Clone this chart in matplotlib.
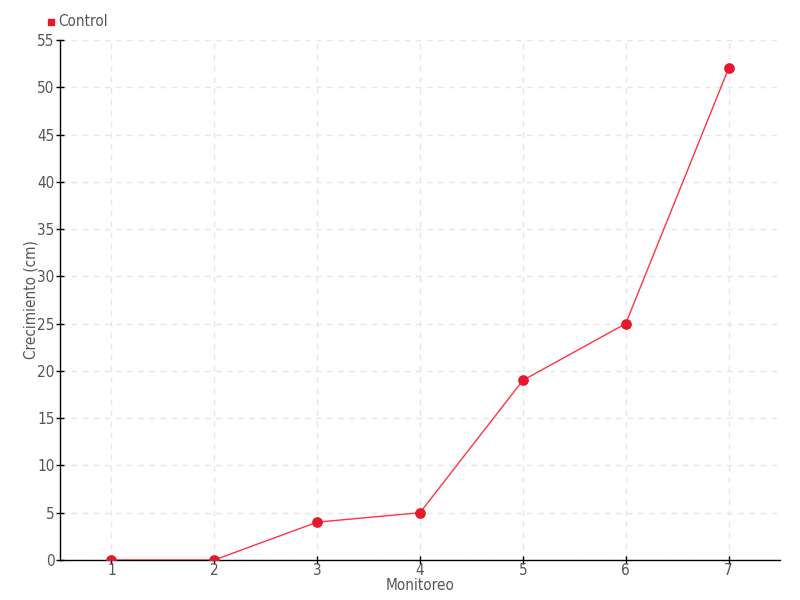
import matplotlib
matplotlib.use("Agg")
import matplotlib.pyplot as plt
from matplotlib import font_manager

# data
monitoreo = [1, 2, 3, 4, 5, 6, 7]
control = [0, 0, 4, 5, 19, 25, 52]
y_ticks = list(range(0, 60, 5))

# condensed face if there is one
cond = [f for f in font_manager.fontManager.ttflist
        if f.name == "DejaVu Sans" and "ondensed" in str(f.stretch) + f.fname]
plt.rcParams['font.family'] = ['DejaVu Sans']
if cond:
    plt.rcParams['font.stretch'] = 'condensed'

RED = "#e8192c"
TEXT = "#555555"

fig = plt.figure(figsize=(8, 6), dpi=100)
ax = fig.add_axes([0.075, 0.0667, 0.9, 0.8666])

ax.plot(monitoreo, control, color="#ff3347", linewidth=1, zorder=3)
ax.scatter(monitoreo, control, color=RED, s=45, zorder=4)

ax.set_xlim(0.5, 7.5)
ax.set_ylim(0, 55)
ax.set_xticks(monitoreo)
ax.set_yticks(y_ticks)
ax.grid(True, color="#e6e6e6", linestyle=(0, (4, 4)), linewidth=1)
ax.set_axisbelow(True)

for s in ("top", "right"):
    ax.spines[s].set_visible(False)
for s in ("left", "bottom"):
    ax.spines[s].set_color("black")
    ax.spines[s].set_linewidth(1)

ax.tick_params(axis="both", direction="inout", length=6, width=1,
               labelsize=11, labelcolor=TEXT, pad=1)
ax.tick_params(axis="x", pad=-1)
ax.set_xlabel("Monitoreo", fontsize=11, color=TEXT, labelpad=0)
ax.set_ylabel("Crecimiento (cm)", fontsize=11, color=TEXT, labelpad=-1)

ax.scatter([], [], marker="s", color=RED, s=20, label="Control")
leg = ax.legend(loc="lower left", bbox_to_anchor=(-0.039, 0.998), frameon=False,
                fontsize=11, handletextpad=0.0, borderaxespad=0.4,
                handlelength=0.9)
for t in leg.get_texts():
    t.set_color(TEXT)

fig.savefig("out.png", dpi=100)
